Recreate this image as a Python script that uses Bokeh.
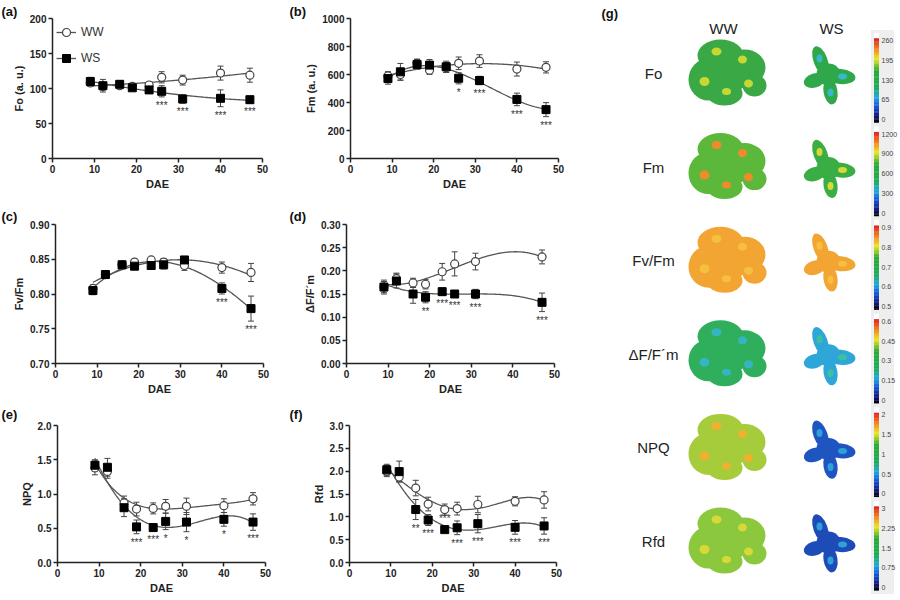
import numpy as np
from bokeh.plotting import figure
from bokeh.layouts import row, column
from bokeh.models import (Range1d, FixedTicker, NumeralTickFormatter, Whisker,
                          ColumnDataSource, Legend, LegendItem)
from bokeh.embed import file_html
from bokeh.resources import INLINE
from bokeh.core.properties import value

FONT = "Liberation Sans"

# ---- data ----
dae = [9, 12, 16, 19, 23, 26, 31, 40, 47]
dae_d = [9, 12, 16, 19, 23, 26, 31, 47]   # panel (d) has no 40 DAE point

fo_ww = [108, 103, 104, 103, 105, 116, 112, 122, 119]
fo_ww_err = [5, 5, 4, 4, 4, 8, 7, 10, 10]
fo_ws = [110, 104, 106, 101, 98, 96, 85, 86, 84]
fo_ws_err = [6, 9, 5, 4, 5, 8, 6, 12, 5]
fo_sig = ["", "", "", "", "", "***", "***", "***", "***"]

fm_ww = [590, 600, 680, 631, 650, 680, 696, 639, 651]
fm_ww_err = [30, 40, 30, 30, 35, 45, 45, 50, 40]
fm_ws = [571, 619, 672, 667, 655, 573, 557, 422, 349]
fm_ws_err = [40, 60, 35, 40, 40, 40, 30, 45, 50]
fm_sig = ["", "", "", "", "", "*", "***", "***", "***"]

fvfm_ww = [0.808, 0.828, 0.842, 0.846, 0.849, 0.846, 0.841, 0.838, 0.831]
fvfm_ww_err = [0.005, 0.003, 0.003, 0.003, 0.003, 0.005, 0.007, 0.008, 0.013]
fvfm_ws = [0.805, 0.828, 0.842, 0.840, 0.841, 0.842, 0.849, 0.808, 0.779]
fvfm_ws_err = [0.006, 0.004, 0.003, 0.004, 0.003, 0.006, 0.003, 0.008, 0.018]
fvfm_sig = ["", "", "", "", "", "", "", "***", "***"]

phi_ww = [0.165, 0.183, 0.174, 0.171, 0.198, 0.215, 0.220, 0.230]
phi_ww_err = [0.012, 0.012, 0.010, 0.010, 0.018, 0.026, 0.018, 0.015]
phi_ws = [0.165, 0.178, 0.150, 0.143, 0.155, 0.150, 0.150, 0.132]
phi_ws_err = [0.015, 0.015, 0.020, 0.012, 0.008, 0.006, 0.010, 0.020]
phi_sig = ["", "", "", "**", "***", "***", "***", "***"]

npq_ww = [1.38, 1.33, 0.87, 0.78, 0.79, 0.82, 0.82, 0.83, 0.93]
npq_ww_err = [0.10, 0.10, 0.10, 0.10, 0.08, 0.10, 0.12, 0.10, 0.09]
npq_ws = [1.42, 1.39, 0.80, 0.52, 0.51, 0.60, 0.59, 0.63, 0.59]
npq_ws_err = [0.08, 0.13, 0.13, 0.10, 0.05, 0.12, 0.14, 0.10, 0.12]
npq_sig = ["", "", "", "***", "***", "*", "*", "*", "***"]

rfd_ww = [2.00, 1.87, 1.63, 1.28, 1.16, 1.18, 1.27, 1.34, 1.37]
rfd_ww_err = [0.12, 0.10, 0.17, 0.15, 0.12, 0.14, 0.18, 0.10, 0.18]
rfd_ws = [2.03, 1.99, 1.16, 0.93, 0.72, 0.76, 0.85, 0.77, 0.80]
rfd_ws_err = [0.12, 0.23, 0.22, 0.12, 0.06, 0.15, 0.20, 0.15, 0.18]
rfd_sig = ["", "", "**", "***", "***", "***", "***", "***", "***"]

# panel (g): image rows and colour-bar scales
img_rows = ["Fo", "Fm", "Fv/Fm", "ΔF/F´m", "NPQ", "Rfd"]
cb_ticks = [["0", "65", "130", "195", "260"],
            ["0", "300", "600", "900", "1200"],
            ["0.5", "0.6", "0.7", "0.8", "0.9"],
            ["0", "0.15", "0.3", "0.45", "0.6"],
            ["0", "0.5", "1", "1.5", "2"],
            ["0", "0.75", "1.5", "2.25", "3"]]
ww_colors = [("#3aa845", "#c8d832"), ("#5cb83a", "#f08a2a"), ("#f2a532", "#f5c040"),
             ("#2fae5c", "#35b5c0"), ("#a6cc3c", "#f0b030"), ("#8cc83e", "#d8d838")]
ws_colors = [("#2ea84a", "#38b8c8"), ("#3aae45", "#d8d838"), ("#f2a532", "#f5c040"),
             ("#2fa6d8", "#3cc0a0"), ("#1f55c0", "#30a0d8"), ("#1d4cb8", "#30a0d8")]

GRAY = "#444444"


def panel(letter, ylab, ymin, ymax, yticks, fmt, x, ww, ww_err, ws, ws_err, sig,
          deg_ww, deg_ws, w, h, left, right, top, bottom, title_standoff,
          above=(), legend=False):
    p = figure(width=w, height=h, x_range=Range1d(0, 50), y_range=Range1d(ymin, ymax),
               output_backend="svg", toolbar_location=None,
               min_border_left=left, min_border_right=right,
               min_border_top=top, min_border_bottom=bottom)
    p.outline_line_color = None
    p.grid.visible = False
    p.xaxis.ticker = FixedTicker(ticks=[0, 10, 20, 30, 40, 50])
    p.yaxis.ticker = FixedTicker(ticks=yticks)
    p.yaxis.formatter = NumeralTickFormatter(format=fmt)
    p.xaxis.axis_label = "DAE"
    p.yaxis.axis_label = ylab
    for ax in p.axis:
        ax.axis_line_color = "#222222"
        ax.axis_line_width = 1.5
        ax.major_tick_line_color = "#222222"
        ax.major_tick_line_width = 1.5
        ax.major_tick_out = 4
        ax.major_tick_in = 0
        ax.minor_tick_out = 0
        ax.minor_tick_in = 0
        ax.major_label_standoff = 2
        ax.axis_label_standoff = 2
        ax.major_label_text_font = FONT
        ax.major_label_text_font_style = "bold"
        ax.major_label_text_font_size = "10px"
        ax.major_label_text_color = "#222222"
        ax.axis_label_text_font = FONT
        ax.axis_label_text_font_style = "bold"
        ax.axis_label_text_font_size = "11px"
        ax.axis_label_text_color = "#222222"

    # panel letter as a left-aligned title pushed into the left margin
    p.title.text = letter
    p.title.align = "left"
    p.title.offset = -left + 1
    p.title.standoff = title_standoff
    p.title.text_font = FONT
    p.title.text_font_size = "13px"
    p.title.text_font_style = "bold"
    p.title.text_color = "#111111"

    fh = h - top - bottom
    upx = (ymax - ymin) / fh

    x = np.array(x, dtype=float)
    ww = np.array(ww)
    ws = np.array(ws)
    ww_err = np.array(ww_err)
    ws_err = np.array(ws_err)

    for m, e in ((ww, ww_err), (ws, ws_err)):
        src = ColumnDataSource(dict(x=x, up=m + e, lo=m - e))
        wk = Whisker(source=src, base="x", upper="up", lower="lo",
                     line_color=GRAY, line_width=1)
        wk.upper_head.size = 6
        wk.lower_head.size = 6
        wk.upper_head.line_color = GRAY
        wk.lower_head.line_color = GRAY
        p.add_layout(wk)

    xs = np.linspace(x.min(), x.max(), 150)
    l_ww = p.line(xs, np.polyval(np.polyfit(x, ww, deg_ww), xs),
                  line_color="#555555", line_width=1.3)
    l_ws = p.line(xs, np.polyval(np.polyfit(x, ws, deg_ws), xs),
                  line_color="#555555", line_width=1.3)
    s_ww = p.scatter(x, ww, marker="circle", size=8, fill_color="white",
                     line_color=GRAY, line_width=1.2)
    s_ws = p.scatter(x, ws, marker="square", size=8, fill_color="black",
                     line_color="black")

    sx, sy, st, sb = [], [], [], []
    for xi, m, e, s in zip(x, ws, ws_err, sig):
        if not s:
            continue
        sx.append(xi)
        st.append(s)
        if xi in above:
            sy.append(m + e + 3 * upx)
            sb.append("bottom")
        else:
            sy.append(m - e - 3 * upx)
            sb.append("top")
    p.text(x=sx, y=sy, text=st, text_baseline=sb, text_align="center",
           text_font=value(FONT), text_font_size="10px", text_color="#333333")

    if legend:
        lg = Legend(items=[LegendItem(label="WW", renderers=[l_ww, s_ww]),
                           LegendItem(label="WS", renderers=[l_ws, s_ws])],
                    location="top_left", margin=2, padding=2, spacing=6,
                    glyph_width=20, label_text_font=FONT,
                    label_text_font_size="12px", label_text_color="#333333",
                    border_line_alpha=0, background_fill_alpha=0)
        p.add_layout(lg)
    return p


pa = panel("(a)", "Fo (a. u.)", 0, 200, [0, 50, 100, 150, 200], "0", dae,
           fo_ww, fo_ww_err, fo_ws, fo_ws_err, fo_sig, 2, 2,
           288, 196, 52, 26, 18, 38, 0, legend=True)
pb = panel("(b)", "Fm (a. u.)", 0, 1000, [0, 200, 400, 600, 800, 1000], "0", dae,
           fm_ww, fm_ww_err, fm_ws, fm_ws_err, fm_sig, 2, 3,
           302, 196, 62, 32, 18, 38, 0)
pc = panel("(c)", "Fv/Fm", 0.70, 0.90, [0.70, 0.75, 0.80, 0.85, 0.90], "0.00", dae,
           fvfm_ww, fvfm_ww_err, fvfm_ws, fvfm_ws_err, fvfm_sig, 2, 3,
           288, 204, 55, 25, 28, 37, 2)
pd = panel("(d)", "ΔF/F´m", 0, 0.30, [0.0, 0.05, 0.10, 0.15, 0.20, 0.25, 0.30], "0.00", dae_d,
           phi_ww, phi_ww_err, phi_ws, phi_ws_err, phi_sig, 3, 3,
           302, 204, 58, 36, 28, 37, 2)
pe = panel("(e)", "NPQ", 0, 2.0, [0.0, 0.5, 1.0, 1.5, 2.0], "0.0", dae,
           npq_ww, npq_ww_err, npq_ws, npq_ws_err, npq_sig, 4, 4,
           288, 198, 57, 23, 24, 36, 8)
pf = panel("(f)", "Rfd", 0, 3.0, [0.0, 0.5, 1.0, 1.5, 2.0, 2.5, 3.0], "0.0", dae,
           rfd_ww, rfd_ww_err, rfd_ws, rfd_ws_err, rfd_sig, 4, 4,
           302, 198, 61, 34, 24, 36, 8, above=(23,))

# ---- panel (g): false-colour image grid with colour bars ----
g = figure(width=308, height=598, x_range=Range1d(590, 898), y_range=Range1d(598, 0),
           output_backend="svg", toolbar_location=None, min_border=0)
g.axis.visible = False
g.grid.visible = False
g.outline_line_color = None

row_y = [73 + 93.6 * i for i in range(len(img_rows))]

g.text(x=[601], y=[5], text=["(g)"], text_font=value(FONT), text_font_style="bold",
       text_font_size="13px", text_baseline="top", text_color="#111111")
g.text(x=[723, 831], y=[28, 28], text=["WW", "WS"], text_font=value(FONT),
       text_font_size="15px", text_align="center", text_baseline="middle",
       text_color="#222222")
g.text(x=[653] * len(img_rows), y=row_y, text=img_rows, text_font=value(FONT),
       text_font_size="15px", text_align="center", text_baseline="middle",
       text_color="#222222")

# plant silhouettes (lobes relative to the image centre)
ww_lobes = [(-8, -18, 46, 32), (-20, 6, 40, 42), (16, -6, 42, 36),
            (-4, 20, 36, 24), (26, 12, 24, 22), (0, 0, 40, 40)]
ww_spots = [(-12, -22, 10, 8), (14, -14, 9, 8), (-24, 8, 10, 9), (20, 10, 9, 8), (-2, 18, 9, 7)]
ws_lobes = [(-8, -14, 14, 30, 0.35), (12, 2, 30, 15, -0.1), (2, 17, 14, 26, 0.15),
            (-14, 6, 22, 14, 0.3), (0, 0, 24, 22, 0.0)]
ws_spots = [(-9, -16, 6, 8, 0.0), (14, 2, 9, 6, 0.0), (2, 18, 6, 8, 0.0)]

wx, wy, ww_w, ww_h, wc = [], [], [], [], []
for yc, (main, acc) in zip(row_y, ww_colors):
    for dx, dy, a, b in ww_lobes:
        wx.append(728 + dx); wy.append(yc + dy); ww_w.append(a); ww_h.append(b); wc.append(main)
    for dx, dy, a, b in ww_spots:
        wx.append(728 + dx); wy.append(yc + dy); ww_w.append(a); ww_h.append(b); wc.append(acc)
g.ellipse(x=wx, y=wy, width=ww_w, height=ww_h, fill_color=wc, line_color=None)

sx, sy, s_w, s_h, s_a, sc = [], [], [], [], [], []
for yc, (main, acc) in zip(row_y, ws_colors):
    for dx, dy, a, b, ang in ws_lobes:
        sx.append(828 + dx); sy.append(yc + 1 + dy); s_w.append(a); s_h.append(b)
        s_a.append(ang); sc.append(main)
    for dx, dy, a, b, ang in ws_spots:
        sx.append(828 + dx); sy.append(yc + 1 + dy); s_w.append(a); s_h.append(b)
        s_a.append(ang); sc.append(acc)
g.ellipse(x=sx, y=sy, width=s_w, height=s_h, angle=s_a, fill_color=sc, line_color=None)

# colour bars
anchors = [(0.0, (0, 0, 0)), (0.07, (20, 20, 110)), (0.2, (20, 90, 220)),
           (0.3, (30, 170, 220)), (0.42, (30, 170, 90)), (0.62, (40, 170, 50)),
           (0.76, (240, 230, 30)), (0.88, (240, 130, 30)), (1.0, (225, 30, 30))]
n_steps = 60
pal = []
for k in range(n_steps):
    t = (k + 0.5) / n_steps
    for (t0, c0), (t1, c1) in zip(anchors[:-1], anchors[1:]):
        if t0 <= t <= t1:
            f = (t - t0) / (t1 - t0)
            c = [int(c0[j] + f * (c1[j] - c0[j])) for j in range(3)]
            pal.append("#%02x%02x%02x" % tuple(c))
            break

bg_y, cx, cy, ch, cc = [], [], [], [], []
lx, ly, lt = [], [], []
for yc, ticks in zip(row_y, cb_ticks):
    top, bot = yc - 35, yc + 49
    bg_y.append(yc + 4.5)
    step = (bot - top) / n_steps
    for k in range(n_steps):
        cx.append(876)
        cy.append(bot - (k + 0.5) * step)
        ch.append(step + 0.3)
        cc.append(pal[k])
    for i, t in enumerate(ticks):
        lx.append(881)
        ly.append(yc + 46 - i * (79 / (len(ticks) - 1)))
        lt.append(t)
g.rect(x=[882] * len(bg_y), y=bg_y, width=23, height=96, fill_color="#eeeeee",
       line_color=None)
g.rect(x=[876] * len(row_y), y=[yc - 38 for yc in row_y], width=5, height=5,
       fill_color="white", line_color=None)
g.rect(x=cx, y=cy, width=5, height=ch, fill_color=cc, line_color=None)
g.text(x=lx, y=ly, text=lt, text_font=value(FONT), text_font_size="7px",
       text_baseline="middle", text_color="#444444")

p = row(column(row(pa, pb), row(pc, pd), row(pe, pf)), g)
open("out.html", "w").write(file_html(p, INLINE))
